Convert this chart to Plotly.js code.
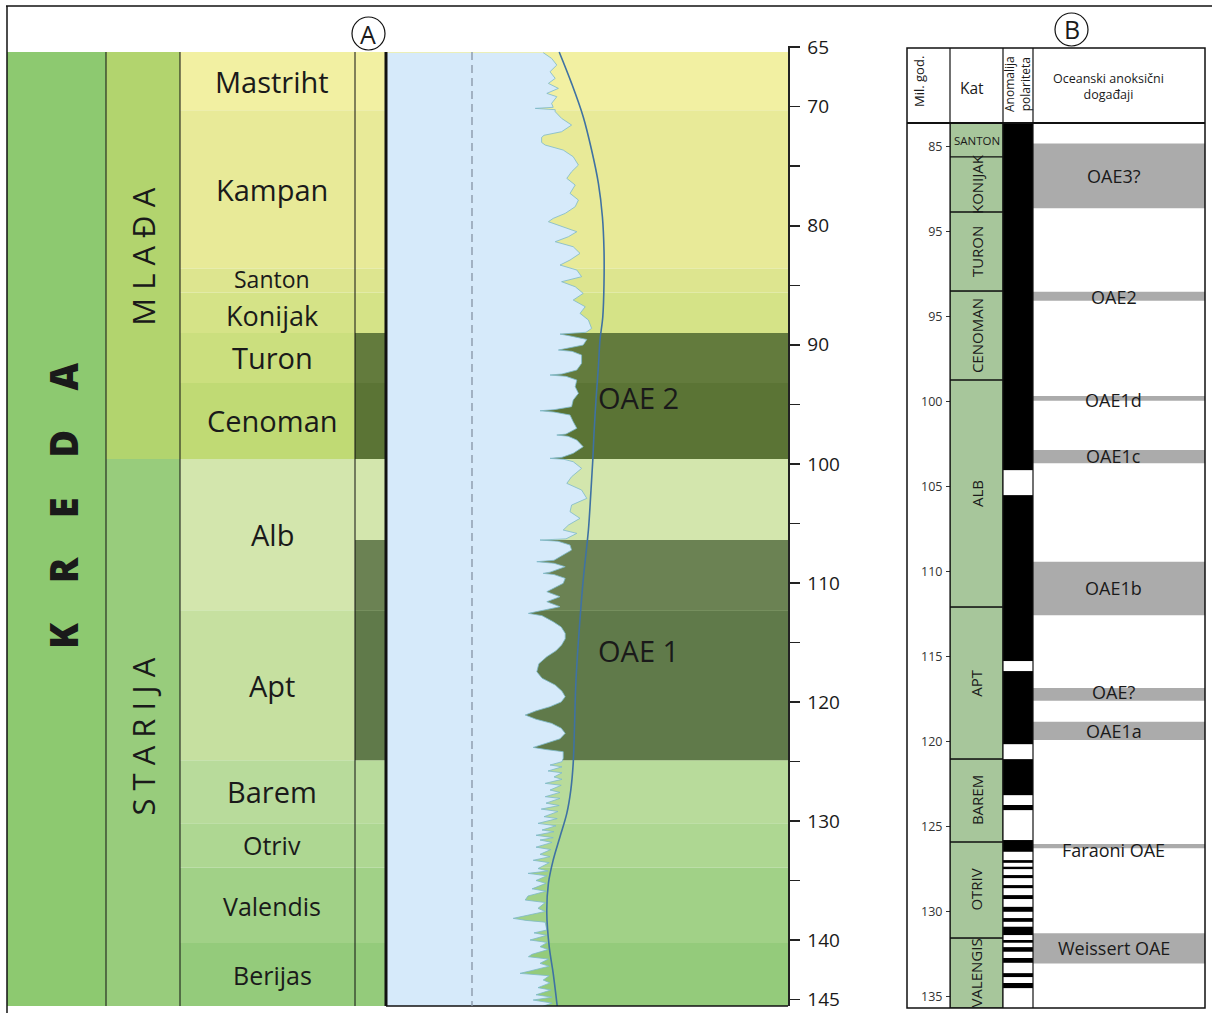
<!DOCTYPE html>
<html><head><meta charset="utf-8">
<script src="https://cdn.plot.ly/plotly-3.0.1.min.js"></script>
<style>html,body{margin:0;padding:0;background:#fff}#chart{width:1212px;height:1017px}</style>
</head><body><div id="chart"></div>
<script>
// ---------------- DATA ----------------
// Panel A: stages (Ma)
const stageNames = ['Mastriht','Kampan','Santon','Konijak','Turon','Cenoman','Alb','Apt','Barem','Otriv','Valendis','Berijas'];
const stageTop  = [65.4, 70.3, 83.6, 85.6, 89.0, 93.2, 99.6, 112.3, 124.9, 130.2, 133.9, 140.25];
const stageBase = [70.3, 83.6, 85.6, 89.0, 93.2, 99.6, 112.3, 124.9, 130.2, 133.9, 140.25, 145.55];
const stageLabelAge = [67.85, 76.95, 84.5, 87.5, 91.1, 96.4, 105.95, 118.6, 127.55, 132.05, 137.1, 142.9];

const epochNames = ['MLAĐA','STARIJA'];
const epochTop  = [65.4, 99.6];
const epochBase = [99.6, 145.55];
const epochLabelAge = [82.6, 122.9];

const eraNames = ['KREDA'];
const eraTop  = [65.4];
const eraBase = [145.55];
const eraLabelAge = [103.5];

// Panel A: anoxic event intervals (dark bands)
const oaeATop  = [89.0, 93.2, 106.4, 112.3];
const oaeABase = [93.2, 99.6, 112.3, 124.9];
const oaeALabels = ['OAE 2','OAE 1'];
const oaeALabelAge = [94.4, 115.7];

// Panel A: proxy curve (relative units) vs age
const curveAge = [65.46,65.94,66.50,67.06,67.62,68.04,68.46,68.88,69.16,69.72,70.05,70.14,70.25,70.42,70.98,71.54,72.10,72.40,72.58,73.00,73.22,73.64,74.20,74.90,75.46,76.02,76.58,77.28,77.84,78.40,78.96,79.38,79.66,80.08,80.50,80.92,81.34,81.76,82.32,82.88,83.30,83.72,84.28,84.70,85.12,85.68,86.24,86.80,87.36,87.92,88.62,88.95,89.10,89.25,89.55,90.02,90.35,90.44,90.55,90.86,91.56,92.12,92.45,92.54,92.65,92.96,93.52,94.08,94.64,95.20,95.45,95.54,95.65,95.90,96.46,97.02,97.50,97.58,97.68,98.00,98.56,99.12,99.45,99.54,99.62,99.82,100.38,101.08,101.64,102.20,102.90,103.46,104.02,104.58,105.14,105.56,105.84,106.30,106.40,106.50,106.82,107.24,108.10,108.22,108.35,108.64,109.10,109.20,109.30,109.62,110.04,110.74,111.16,111.58,112.00,112.40,112.56,112.75,113.26,113.70,114.24,114.70,115.22,115.70,116.20,116.80,117.46,118.00,118.58,119.10,119.56,120.00,120.40,120.75,121.10,121.45,121.80,122.20,122.64,123.10,123.48,123.82,124.00,124.18,124.74,125.02,125.30,125.45,125.80,125.95,126.30,126.50,126.84,127.00,127.40,127.60,127.96,128.10,128.50,128.70,129.00,129.20,129.64,129.80,130.20,130.40,130.76,130.90,131.20,131.40,131.60,131.80,132.20,132.40,132.80,133.00,133.30,133.50,134.00,134.20,134.40,134.60,135.00,135.24,135.70,135.90,136.30,136.64,136.85,137.34,137.60,138.00,138.18,138.35,138.50,139.16,139.40,139.60,140.00,140.20,140.56,140.80,141.20,141.40,141.60,141.96,142.20,142.60,142.80,143.00,143.36,143.60,144.00,144.20,144.60,144.80,145.04,145.30,145.60];
const curveValue = [39.3,41.4,42.7,41.0,42.3,40.6,43.1,40.2,42.7,41.4,41.8,37.3,42.3,42.3,43.9,46.4,43.9,39.5,38.9,38.9,39.8,44.3,46.8,48.1,46.4,45.2,47.3,46.0,48.1,47.3,44.8,41.8,40.6,44.3,47.7,45.6,42.3,46.8,48.5,46.0,43.5,47.7,48.9,43.9,47.3,49.3,46.8,49.8,48.5,50.6,51.4,50.0,43.5,46.0,50.2,49.3,45.0,43.1,46.5,48.9,48.9,47.7,44.0,41.0,45.0,47.7,47.3,48.1,46.8,46.4,42.0,38.5,42.0,46.0,46.8,47.7,45.0,42.7,45.5,47.7,49.3,46.8,44.0,41.0,44.5,46.8,48.9,46.4,45.2,48.9,50.2,46.4,46.0,48.5,45.6,44.3,47.7,45.0,38.5,43.0,46.0,46.4,42.0,37.7,42.0,44.8,41.0,39.3,42.0,44.8,44.3,40.2,43.5,40.2,43.5,38.0,35.6,39.0,41.8,43.8,44.8,44.8,43.9,42.5,40.2,38.2,37.7,39.0,42.3,44.0,44.8,43.8,41.0,37.5,34.8,37.5,41.4,43.8,44.8,43.5,40.2,36.8,40.0,44.3,44.3,44.0,41.0,44.0,40.5,44.0,42.0,44.0,39.8,43.8,41.0,43.5,39.8,43.5,40.0,43.3,38.8,43.0,39.5,42.8,38.0,42.5,39.0,42.0,37.5,41.8,38.5,41.5,37.5,41.2,38.5,41.0,36.8,40.8,38.0,40.5,35.5,40.2,37.5,40.0,36.5,40.0,35.5,34.8,39.8,38.0,39.8,34.0,31.8,35.0,39.8,40.2,37.0,40.2,36.0,40.3,38.5,40.5,36.5,35.6,40.6,38.5,40.8,36.0,33.5,40.8,39.3,41.0,38.0,41.2,37.5,41.5,36.8,41.5,38.9];

// Panel A: long-term trend line
const trendAge   = [65.4,68.04,70.84,73.64,76.44,79.24,82.04,84.84,87.64,89.6,91.84,94.64,97.44,99.68,102.48,105.56,109.76,113.96,118.16,122.36,125.16,127.4,129.36,131.32,133.28,135.24,137.76,140.56,142.8,145.55];
const trendValue = [43.3,46.4,49.3,51.4,53.1,54.1,54.5,54.5,54.2,53.5,53.1,52.5,52.0,51.7,51.2,50.6,49.3,48.3,47.5,47.1,46.8,46.2,45.2,43.5,41.8,40.6,40.2,40.8,41.8,42.8];
const refValue = 21.5;

const aTickVals = [65,70,75,80,85,90,95,100,105,110,115,120,125,130,135,140,145];
const aTickText = ['65','70','','80','','90','','100','','110','','120','','130','','140','145'];

// Panel B: stages
const katNames = ['SANTON','KONIJAK','TURON','CENOMAN','ALB','APT','BAREM','OTRIV','VALENGIS'];
const katTop  = [83.6, 85.6, 88.84, 93.49, 98.72, 112.08, 121.02, 125.9, 131.55];
const katBase = [85.6, 88.84, 93.49, 98.72, 112.08, 121.02, 125.9, 131.55, 135.66];

// Panel B: polarity (normal = black over whole column, reversed = white intervals)
const polTop  = [83.6];
const polBase = [135.66];
const revTop  = [104.02,115.25,120.14,123.14,124.02,126.47,127.12,127.49,128.02,128.61,129.25,130.00,130.59,131.37,131.82,132.35,133.00,133.84,134.49];
const revBase = [105.49,115.84,121.02,123.72,125.78,126.96,127.35,127.84,128.43,129.02,129.71,130.37,130.88,131.66,132.08,132.72,133.61,134.19,135.66];

// Panel B: oceanic anoxic events
const eventNames = ['OAE3?','OAE2','OAE1d','OAE1c','OAE1b','OAE?','OAE1a','Faraoni OAE','Weissert OAE'];
const eventTop  = [84.80, 93.53, 99.66, 102.84, 109.41, 116.84, 118.82, 126.02, 131.27];
const eventBase = [88.61, 94.06, 99.94, 103.61, 112.55, 117.59, 119.90, 126.27, 133.04];
const eventLabelAge = [86.73, 93.84, 99.9, 103.2, 110.96, 117.08, 119.37, 126.34, 132.13];

const bTickVals = [85,90,95,100,105,110,115,120,125,130,135];
const bTickText = ['85','95','95','100','105','110','115','120','125','130','135'];

// ---------------- STYLE ----------------
const stageColors = ['#F2F0A2','#E8EA98','#DDE58F','#D5E387','#CBDF7E','#C0DA74','#D3E6AD','#C6E0A0','#B8DB9B','#AED792','#A1D187','#94CB7B'];
const stageFont = [29,29,23,27,29,29,29,29,29,25,25,25];
const epochColors = ['#B2D46E','#98CC7C'];
const eraColors = ['#8DC970'];
const oaeAColors = ['#637B3D','#5B7435','#6B8253','#607A4A'];

const W = 1212, H = 1017;
const px = x => x / W, py = y => 1 - y / H;
const FONT = 'Open Sans, DejaVu Sans, sans-serif';
const TXT = '#1a1a1a';

function intervalBars(tops, bases, colors, xa, ya, line) {
  return {
    type: 'bar', xaxis: xa, yaxis: ya,
    x: tops.map(() => 0.5), width: tops.map(() => 1),
    base: tops, y: bases.map((b, i) => b - tops[i]),
    marker: {color: colors, line: line || {width: 0}},
    hoverinfo: 'skip', showlegend: false
  };
}

const traces = [
  intervalBars(stageTop, stageBase, stageColors, 'x', 'y'),
  intervalBars(eraTop, eraBase, eraColors, 'x2', 'y'),
  intervalBars(epochTop, epochBase, epochColors, 'x3', 'y'),
  intervalBars(oaeATop, oaeABase, oaeAColors, 'x4', 'y'),
  {type: 'scatter', mode: 'lines', xaxis: 'x5', yaxis: 'y', x: curveValue, y: curveAge,
   fill: 'tozerox', fillcolor: '#D6EAFA', line: {color: '#7DB9C9', width: 0.8},
   hoverinfo: 'skip', showlegend: false},
  {type: 'scatter', mode: 'lines', xaxis: 'x5', yaxis: 'y', x: trendValue, y: trendAge,
   line: {color: '#3F72A3', width: 1.6, shape: 'spline'}, hoverinfo: 'skip', showlegend: false},
  intervalBars(katTop, katBase, katNames.map(() => '#A7C69B'), 'x6', 'y2', {width: 1.2, color: '#111'}),
  intervalBars(polTop, polBase, ['#000000'], 'x7', 'y2'),
  intervalBars(revTop, revBase, revTop.map(() => '#ffffff'), 'x7', 'y2'),
  intervalBars(eventTop, eventBase, eventNames.map(() => '#ABABAB'), 'x8', 'y2')
];

function hidden(dom, range, anchor) {
  return {domain: dom, range: range, anchor: anchor, visible: false, fixedrange: true};
}

const layout = {
  width: W, height: H, margin: {l: 0, r: 0, t: 0, b: 0},
  paper_bgcolor: '#ffffff', plot_bgcolor: 'rgba(0,0,0,0)',
  barmode: 'overlay', showlegend: false,
  xaxis:  hidden([px(180), px(788)], [0, 1], 'y'),
  xaxis2: hidden([px(7), px(106)], [0, 1], 'y'),
  xaxis3: hidden([px(106), px(180)], [0, 1], 'y'),
  xaxis4: hidden([px(355), px(788)], [0, 1], 'y'),
  xaxis5: hidden([px(386), px(788)], [0, 100.5], 'y'),
  xaxis6: hidden([px(950), px(1003)], [0, 1], 'y2'),
  xaxis7: hidden([px(1003), px(1033)], [0, 1], 'y2'),
  xaxis8: hidden([px(1033), px(1205)], [0, 1], 'y2'),
  yaxis: {
    domain: [py(1006.1), py(46)], range: [145.55, 64.9], anchor: 'free', position: px(788), side: 'right',
    showline: true, linecolor: '#222', linewidth: 1.5, ticks: 'outside', ticklen: 10, tickwidth: 1.5,
    tickcolor: '#222', tickmode: 'array', tickvals: aTickVals, ticktext: aTickText,
    showgrid: false, zeroline: false, fixedrange: true, ticklabelstandoff: 4,
    tickfont: {family: FONT, size: 19, color: TXT}
  },
  yaxis2: {
    domain: [py(1008), py(123)], range: [135.66, 83.6], anchor: 'free', position: px(950), side: 'left',
    showline: false, ticks: 'outside', ticklen: 4, tickwidth: 1, tickcolor: '#333',
    tickmode: 'array', tickvals: bTickVals, ticktext: bTickText,
    showgrid: false, zeroline: false, fixedrange: true, ticklabelstandoff: 1,
    tickfont: {family: FONT, size: 12.5, color: '#333'}
  },
  shapes: [],
  annotations: []
};

const S = layout.shapes, A = layout.annotations;
function pline(x0, y0, x1, y1, w, c) {
  S.push({type: 'line', xref: 'paper', yref: 'paper', x0: px(x0), x1: px(x1), y0: py(y0), y1: py(y1),
          line: {color: c || '#111', width: w || 1}});
}
function note(o) {
  A.push(Object.assign({showarrow: false, xanchor: 'center', yanchor: 'middle'}, o));
}
// outer frame
pline(6, 6, 1212, 6, 1.5);
pline(7, 6, 7, 1013, 1.5);
// panel A column dividers
pline(106, 52, 106, 1006, 1);
pline(180, 52, 180, 1006, 1);
pline(355, 52, 355, 1006, 1);
pline(386, 52, 386, 1006, 3);
pline(386, 1006, 788, 1006, 1.5);
// dashed reference line in curve column
S.push({type: 'line', xref: 'x5', yref: 'y', x0: refValue, x1: refValue, y0: 65.4, y1: 145.55,
        line: {color: '#8C9AAA', width: 1.4, dash: '8px,5px'}});
// panel B frame
S.push({type: 'rect', xref: 'paper', yref: 'paper', x0: px(907), x1: px(1205), y0: py(1008), y1: py(48),
        line: {color: '#111', width: 1.5}});
pline(907, 123, 1205, 123, 2);
pline(950, 48, 950, 1008, 1.2);
pline(1003, 48, 1003, 1008, 1.2);
pline(1033, 48, 1033, 1008, 1.2);
// circled panel letters
S.push({type: 'circle', xref: 'paper', yref: 'paper', x0: px(352), x1: px(385), y0: py(50), y1: py(17),
        line: {color: '#111', width: 1.2}});
S.push({type: 'circle', xref: 'paper', yref: 'paper', x0: px(1055), x1: px(1088), y0: py(46), y1: py(13),
        line: {color: '#111', width: 1.2}});
note({xref: 'paper', yref: 'paper', x: px(368.5), y: py(33.5), text: 'A', font: {family: FONT, size: 25, color: TXT}});
note({xref: 'paper', yref: 'paper', x: px(1071.5), y: py(29.5), text: 'B', font: {family: FONT, size: 25, color: TXT}});

// Panel A labels
stageNames.forEach((n, i) => note({xref: 'x', yref: 'y', x: (272 - 180) / 608, y: stageLabelAge[i],
  text: n, font: {family: FONT, size: stageFont[i], color: TXT}}));
const nb = '\u00A0';
eraNames.forEach((n, i) => note({xref: 'x2', yref: 'y', x: 0.56, y: eraLabelAge[i], text: n.split('').join(nb.repeat(4)),
  textangle: -90, font: {family: FONT, size: 38, color: TXT, weight: 800}}));
epochNames.forEach((n, i) => note({xref: 'x3', yref: 'y', x: 0.5, y: epochLabelAge[i], text: n.split('').join(nb),
  textangle: -90, font: {family: FONT, size: 31, color: TXT}}));
oaeALabels.forEach((n, i) => note({xref: 'x5', yref: 'y', x: 63, y: oaeALabelAge[i], text: n,
  font: {family: FONT, size: 29, color: TXT}}));

// Panel B header
note({xref: 'paper', yref: 'paper', x: px(919), y: py(82), text: 'Mil. god.', textangle: -90,
      font: {family: FONT, size: 13, color: TXT}});
note({xref: 'paper', yref: 'paper', x: px(972), y: py(88), text: 'Kat', font: {family: FONT, size: 15.5, color: TXT}});
note({xref: 'paper', yref: 'paper', x: px(1017), y: py(84), text: 'Anomalija<br>polariteta', textangle: -90,
      font: {family: FONT, size: 12, color: TXT}});
note({xref: 'paper', yref: 'paper', x: px(1108), y: py(86), text: 'Oceanski anoksični<br>događaji',
      font: {family: FONT, size: 12.5, color: TXT}});

// Panel B stage labels
katNames.forEach((n, i) => note({xref: 'x6', yref: 'y2', x: 0.5, y: (katTop[i] + katBase[i]) / 2,
  text: n, textangle: i === 0 ? 0 : -90, font: {family: FONT, size: i === 0 ? 11.5 : 15, color: TXT}}));
// Panel B event labels
eventNames.forEach((n, i) => note({xref: 'x8', yref: 'y2', x: 0.47, y: eventLabelAge[i],
  text: n, font: {family: FONT, size: 18, color: TXT}}));

Plotly.newPlot('chart', traces, layout, {staticPlot: true, displayModeBar: false});
</script></body></html>
